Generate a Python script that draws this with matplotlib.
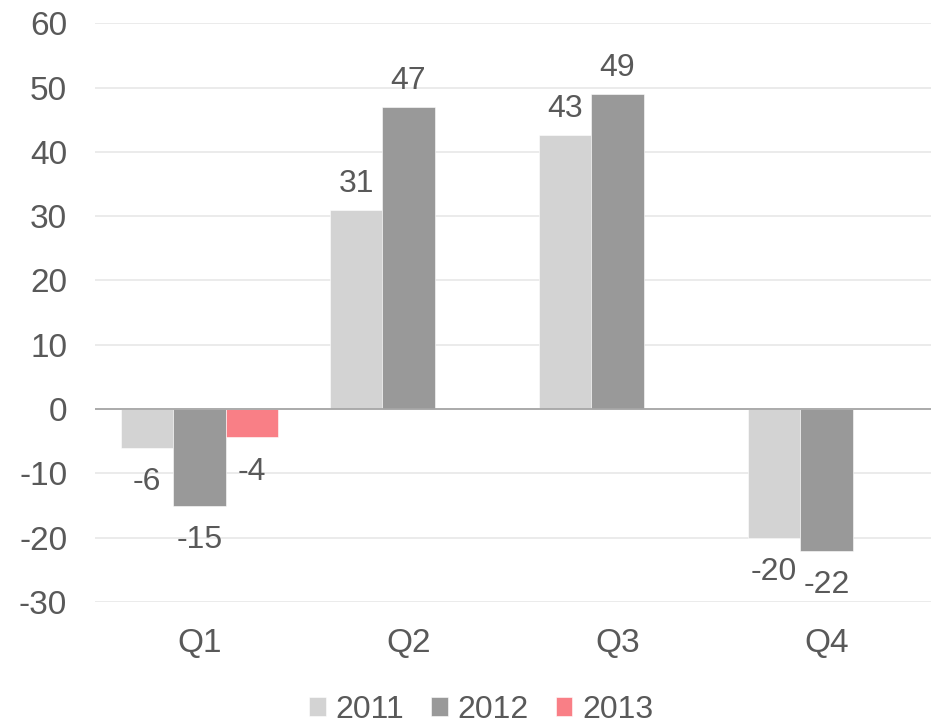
import matplotlib
matplotlib.use('Agg')
import matplotlib.pyplot as plt
import numpy as np

plt.rcParams['font.family'] = ['Liberation Sans', 'DejaVu Sans']
plt.rcParams['axes.unicode_minus'] = False

quarters = ['Q1', 'Q2', 'Q3', 'Q4']
years = ['2011', '2012', '2013']
vals_2011 = [-6, 31, 42.6, -20]
vals_2012 = [-15, 47, 49, -22]
vals_2013 = [-4.4, np.nan, np.nan, np.nan]
colors = ['#D3D3D3', '#999999', '#F97F86']
yticks = [-30, -20, -10, 0, 10, 20, 30, 40, 50, 60]

TXT = '#595959'

fig = plt.figure(figsize=(9.34, 7.27), dpi=100)
ax = fig.add_axes([0.1017, 0.172, 0.895, 0.796])

x = np.arange(len(quarters))
w = 0.25
series = [vals_2011, vals_2012, vals_2013]
for i, (yr, vals, c) in enumerate(zip(years, series, colors)):
    pos = x + (i - 1) * w
    bars = ax.bar(pos, vals, width=w, color=c, edgecolor='white', linewidth=0.4,
                  label=yr, zorder=2)
    for b, v in zip(bars, vals):
        if np.isnan(v):
            continue
        cx = b.get_x() + b.get_width() / 2
        if v >= 0:
            ax.annotate(f'{v:.0f}', (cx, v), xytext=(0, 13), textcoords='offset points',
                        ha='center', va='baseline', fontsize=23, color=TXT)
        else:
            ax.annotate(f'{v:.0f}', (cx, v), xytext=(0, -14), textcoords='offset points',
                        ha='center', va='top', fontsize=23, color=TXT)

ax.axhline(0, color='#A6A6A6', lw=1.3, zorder=3)

ax.set_xlim(-0.5, 3.5)
ax.set_ylim(-30, 60)
ax.set_yticks(yticks)
ax.set_xticks(x)
ax.set_xticklabels(quarters)
ax.grid(axis='y', color='#E6E6E6', lw=1.1, zorder=0)
ax.set_axisbelow(True)
for s in ax.spines.values():
    s.set_visible(False)
ax.tick_params(axis='both', length=0, labelsize=24, colors=TXT)
ax.tick_params(axis='y', pad=20)
ax.tick_params(axis='x', pad=19)

fig.legend(loc='center', bbox_to_anchor=(0.515, 0.024), ncol=3, frameon=False,
           fontsize=23, labelcolor=TXT, handlelength=0.52, handleheight=0.52,
           handletextpad=0.3, columnspacing=0.85, borderaxespad=0)

fig.savefig('out.png', dpi=100, facecolor='white')
